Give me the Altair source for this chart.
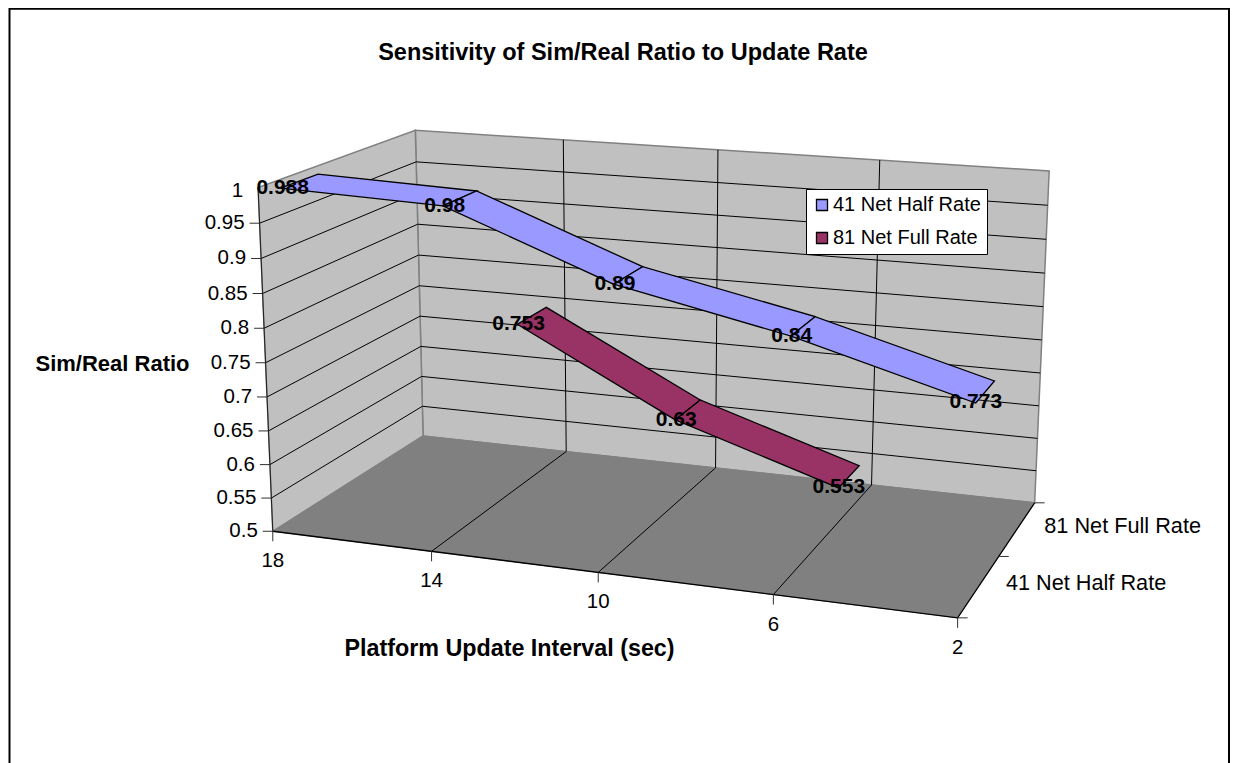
import numpy as np
import pandas as pd
import altair as alt

# ---------- chart values ----------
categories = ["18", "14", "10", "6", "2"]
series_names = ["41 Net Half Rate", "81 Net Full Rate"]
half_rate = [0.988, 0.98, 0.89, 0.84, 0.773]
full_rate = [None, 0.753, 0.63, 0.553, None]
value_ticks = [0.5, 0.55, 0.6, 0.65, 0.7, 0.75, 0.8, 0.85, 0.9, 0.95, 1.0]
tick_text = ["0.5", "0.55", "0.6", "0.65", "0.7", "0.75", "0.8", "0.85", "0.9", "0.95", "1"]
label_text = [["0.988", "0.98", "0.89", "0.84", "0.773"], [None, "0.753", "0.63", "0.553", None]]
colors = ["#9999FF", "#993366"]

FONT = "Liberation Sans"

# ---------- 3-D camera: projection of (category, depth, value) fraction to the page ----------
calib = [
    (0, 0, 0, 272.7, 531.7), (0, 1, 0, 423.3, 435.7), (1, 0, 0, 957.7, 617.7), (1, 1, 0, 1035, 502.3),
    (0, 0, 1, 258.3, 186), (0, 1, 1, 414.3, 130.7), (1, 1, 1, 1049.3, 170.7),
    (.25, 0, 0, 432.3, 551.5), (.5, 0, 0, 598.3, 572.7), (.75, 0, 0, 772, 595),
    (.25, 1, 0, 566.7, 451), (.5, 1, 0, 715, 468), (.75, 1, 0, 871.7, 485),
    (.25, 1, 1, 563.7, 140), (.5, 1, 1, 718.3, 150.7), (.75, 1, 1, 879.3, 160),
    (0, 0, .1, 271, 498), (0, 0, .6, 264.3, 328.7), (0, 0, .9, 260, 223.3),
    (0, 1, .5, 419, 285.7), (1, 1, .5, 1042, 340),
]
rows = []
for u, v, w, px, py in calib:
    px, py = px / 1000, py / 1000
    X = [u, v, w, 1]
    rows.append(X + [0, 0, 0, 0] + [-px * c for c in X])
    rows.append([0, 0, 0, 0] + X + [-py * c for c in X])
P = np.linalg.svd(np.array(rows))[2][-1].reshape(3, 4)


def proj(u, v, w):
    h = P @ np.array([u, v, w, 1.0])
    return 1000 * h[0] / h[2], 1000 * h[1] / h[2]


def wf(val):
    return (val - 0.5) / 0.5


def uf(i):
    return i / (len(categories) - 1)


# ---------- geometry tables ----------
def table(paths):
    out = []
    for g, path in enumerate(paths):
        for o, (x, y) in enumerate(path):
            out.append({"g": g, "o": o, "x": x, "y": y})
    return pd.DataFrame(out)


X = alt.X("x:Q", scale=alt.Scale(domain=[8, 1230]), axis=None)
Y = alt.Y("y:Q", scale=alt.Scale(domain=[763, 8]), axis=None)


def lines(paths, stroke, width=1.0):
    return alt.Chart(table(paths)).mark_line(stroke=stroke, strokeWidth=width).encode(
        x=X, y=Y, detail="g:N", order="o:Q")


def polys(paths, fill, stroke, width=1.0):
    return alt.Chart(table(paths)).mark_line(
        interpolate="linear-closed", fill=fill, stroke=stroke, strokeWidth=width
    ).encode(x=X, y=Y, detail="g:N", order="o:Q")


def texts(rows_, size, align="center", weight="normal"):
    return alt.Chart(pd.DataFrame(rows_, columns=["x", "y", "t"])).mark_text(
        font=FONT, fontSize=size, align=align, baseline="middle", fontWeight=weight, color="black"
    ).encode(x=X, y=Y, text="t:N")


frame = alt.Chart(pd.DataFrame({"x": [9.5], "x2": [1229], "y": [8.7], "y2": [820]})).mark_rect(
    fill="white", stroke="black", strokeWidth=2, clip=False
).encode(x=X, x2="x2:Q", y=Y, y2="y2:Q")

back_wall = polys([[proj(0, 1, 0), proj(1, 1, 0), proj(1, 1, 1), proj(0, 1, 1)]], "#C0C0C0", "#808080", 1.5)
left_wall = polys([[proj(0, 0, 0), proj(0, 1, 0), proj(0, 1, 1), proj(0, 0, 1)]], "#C0C0C0", "#808080", 1.5)
floor = polys([[proj(0, 0, 0), proj(1, 0, 0), proj(1, 1, 0), proj(0, 1, 0)]], "#808080", "#808080", 1)

grid = []
for t in value_ticks[1:-1]:
    grid.append([proj(0, 0, wf(t)), proj(0, 1, wf(t)), proj(1, 1, wf(t))])
for i in range(1, len(categories) - 1):
    grid.append([proj(uf(i), 0, 0), proj(uf(i), 1, 0), proj(uf(i), 1, 1)])
grid_l = lines(grid, "#000000", 1)

edges = lines([[proj(0, 0, 0), proj(1, 0, 0), proj(1, 1, 0)]], "#000000", 1.3)
left_edge = lines([[proj(0, 0, 0), proj(0, 0, 1)]], "#202020", 1)

ticks = []
for t in value_ticks[:-1]:
    x, y = proj(0, 0, wf(t))
    ticks.append([(x - 10, y), (x, y)])
for i in range(len(categories)):
    x, y = proj(uf(i), 0, 0)
    ticks.append([(x, y), (x, y + 10)])
for v in [0, 0.5, 1]:
    x, y = proj(1, v, 0)
    ticks.append([(x, y), (x + 10, y)])
ticks_l = lines(ticks, "#303030", 1)

# ribbons
depth_center = [0.25, 0.75]
ribbon_rows = []
label_rows = []
gid = 0
for s, (name, vals) in enumerate(zip(series_names, [half_rate, full_rate])):
    c = depth_center[s]
    v0, v1 = c - 0.125, c + 0.1
    for i in range(len(vals)):
        if vals[i] is None:
            continue
        fx, fy = proj(uf(i), c - 0.1, wf(vals[i]))
        label_rows.append((fx - 2, fy + 2, label_text[s][i]))
        if i + 1 < len(vals) and vals[i + 1] is not None:
            a, b = wf(vals[i]), wf(vals[i + 1])
            quad = [proj(uf(i), v0, a), proj(uf(i + 1), v0, b), proj(uf(i + 1), v1, b), proj(uf(i), v1, a)]
            for o, (x, y) in enumerate(quad):
                ribbon_rows.append({"g": gid, "o": o, "x": x, "y": y, "series": name})
            gid += 1

ribbons = alt.Chart(pd.DataFrame(ribbon_rows)).mark_line(
    interpolate="linear-closed", stroke="black", strokeWidth=1.3
).encode(
    x=X, y=Y, detail="g:N", order="o:Q",
    fill=alt.Fill(
        "series:N",
        scale=alt.Scale(domain=series_names, range=colors),
        legend=alt.Legend(
            orient="none", legendX=798, legendY=181, title=None,
            fillColor="white", strokeColor="black", padding=6,
            symbolType="square", symbolSize=121, symbolStrokeColor="black", symbolStrokeWidth=1.3,
            labelFont=FONT, labelFontSize=20, labelColor="black", labelOffset=1,
            rowPadding=13, labelLimit=400,
        ),
    ),
)

# text
ytext = []
for t, s in zip(value_ticks, tick_text):
    x, y = proj(0, 0, wf(t))
    ytext.append((x - 15, y + (3 if s == "1" else 0), s))
xtext = []
for i, s in enumerate(categories):
    x, y = proj(uf(i), 0, 0)
    xtext.append((x, y + 30, s))
ztext = []
for name, v in zip(series_names, depth_center):
    x, y = proj(1, v, 0)
    ztext.append((x + 27, y - 3, name))

chart = alt.layer(
    frame, back_wall, left_wall, floor, grid_l, edges, left_edge, ticks_l, ribbons,
    texts(label_rows, 21, weight="bold"),
    texts(ytext, 20.5, align="right"),
    texts(xtext, 20.5),
    texts(ztext, 21.7, align="left"),
    texts([(623, 52.5, "Sensitivity of Sim/Real Ratio to Update Rate")], 23.5, weight="bold"),
    texts([(112.5, 364, "Sim/Real Ratio")], 22, weight="bold"),
    texts([(509.5, 649, "Platform Update Interval (sec)")], 23.3, weight="bold"),
).properties(
    width=1222, height=755, padding=0, autosize=alt.AutoSizeParams(type="none"),
).configure_view(stroke=None).resolve_scale(fill="independent")

chart.save("out.html", embed_options={"renderer": "svg", "actions": False})
